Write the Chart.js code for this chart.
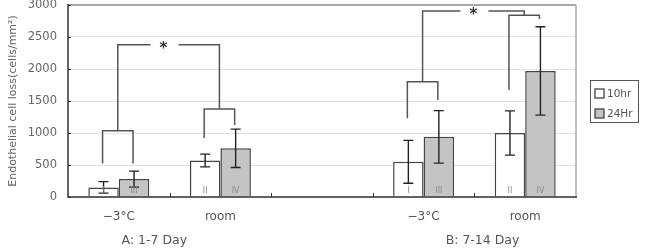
<!DOCTYPE html>
<html><head><meta charset="utf-8">
<script src="https://cdn.jsdelivr.net/npm/chart.js@4"></script>
<style>html,body{margin:0;padding:0;background:#fff;}canvas{display:block;}</style>
</head><body>
<canvas id="c" width="647" height="248"></canvas>
<script>
// ---- data ----
const categories = ['−3°C', 'room', '', '−3°C', 'room'];
const hr10 = [150, 570, null, 550, 1000];
const hr24 = [280, 760, null, 940, 1970];
const err10 = [90, 100, null, 335, 345];
const err24 = [125, 300, null, 410, 690];
const tags10 = ['I', 'II', '', 'I', 'II'];
const tags24 = ['III', 'IV', '', 'III', 'IV'];
const seriesNames = ['10hr', '24Hr'];
const groupLabels = ['A: 1-7 Day', 'B: 7-14 Day'];
const groupLabelAt = [0.35, 3.58];           // in category units
const yTicks = [0, 500, 1000, 1500, 2000, 2500, 3000];
// pair brackets: category, bracket height, left leg end, right leg end (data units)
const pairCat = [0, 1, 3, 4];
const pairTop = [1036, 1375, 1800, 2840];
const pairLeftEnd = [525, 920, 1230, 1670];
const pairRightEnd = [525, 1125, 1515, 2780];
// significance brackets: from category, to category, height
const sigFrom = [0, 3];
const sigTo = [1, 4];
const sigTop = [2380, 2906];
const sigStarShift = [-0.05, 0];

const FONT = "'DejaVu Sans', sans-serif";

function barX(chart, dsIndex, i) {
  const meta = chart.getDatasetMeta(dsIndex);
  return meta.data[i].x;
}

const overlay = {
  id: 'overlay',
  afterDatasetsDraw(chart) {
    const ctx = chart.ctx;
    const x = chart.scales.x, y = chart.scales.y;
    const L = x.left, R = x.right, T = y.top, B = y.bottom;
    ctx.save();
    // frame: top and right
    ctx.strokeStyle = '#a8a8a8'; ctx.lineWidth = 2;
    ctx.beginPath(); ctx.moveTo(L, T); ctx.lineTo(R, T); ctx.stroke();
    ctx.lineWidth = 1.5;
    ctx.beginPath(); ctx.moveTo(R, T); ctx.lineTo(R, B); ctx.stroke();
    // axes
    ctx.strokeStyle = '#333'; ctx.lineWidth = 1.5;
    ctx.beginPath(); ctx.moveTo(L, T - 1); ctx.lineTo(L, B); ctx.lineTo(R + 1, B); ctx.stroke();
    // y tick marks (inside)
    ctx.lineWidth = 1;
    yTicks.forEach(v => { const py = Math.round(y.getPixelForValue(v)) + 0.5;
      ctx.beginPath(); ctx.moveTo(L, py); ctx.lineTo(L + 3, py); ctx.stroke(); });
    // x tick marks at category boundaries (inside)
    const n = categories.length, cw = (R - L) / n;
    for (let i = 1; i < n; i++) { const px = Math.round(L + i * cw) + 0.5;
      ctx.beginPath(); ctx.moveTo(px, B); ctx.lineTo(px, B - 4); ctx.stroke(); }
    // error bars
    ctx.strokeStyle = '#222'; ctx.lineWidth = 1.4;
    [[hr10, err10, 0], [hr24, err24, 1]].forEach(([vals, errs, d]) => {
      vals.forEach((v, i) => {
        if (v == null) return;
        const px = barX(chart, d, i);
        const y1 = y.getPixelForValue(v + errs[i]), y2 = y.getPixelForValue(v - errs[i]);
        ctx.beginPath();
        ctx.moveTo(px, y1); ctx.lineTo(px, y2);
        ctx.moveTo(px - 5, y1); ctx.lineTo(px + 5, y1);
        ctx.moveTo(px - 5, y2); ctx.lineTo(px + 5, y2);
        ctx.stroke();
      });
    });
    // roman tags
    ctx.fillStyle = '#8a8a8a'; ctx.font = '8px ' + FONT; ctx.textAlign = 'center'; ctx.textBaseline = 'alphabetic';
    [[tags10, 0], [tags24, 1]].forEach(([tags, d]) => {
      tags.forEach((t, i) => { if (!t) return; ctx.fillText(t, barX(chart, d, i), B - 4); });
    });
    // pair brackets
    ctx.strokeStyle = '#555'; ctx.lineWidth = 1.5;
    pairCat.forEach((c, k) => {
      const xl = barX(chart, 0, c) - 1, xr = barX(chart, 1, c) - 1;
      const yt = y.getPixelForValue(pairTop[k]);
      ctx.beginPath();
      ctx.moveTo(xl, y.getPixelForValue(pairLeftEnd[k])); ctx.lineTo(xl, yt);
      ctx.lineTo(xr, yt); ctx.lineTo(xr, y.getPixelForValue(pairRightEnd[k]));
      ctx.stroke();
    });
    // significance brackets
    sigFrom.forEach((f, k) => {
      const t = sigTo[k];
      const kf = pairCat.indexOf(f), kt = pairCat.indexOf(t);
      const xf = (barX(chart, 0, f) + barX(chart, 1, f)) / 2 - 1;
      const xt = (barX(chart, 0, t) + barX(chart, 1, t)) / 2 - 1;
      const yt = y.getPixelForValue(sigTop[k]);
      const xm = (xf + xt) / 2 + sigStarShift[k] * cw;
      ctx.beginPath();
      ctx.moveTo(xf, y.getPixelForValue(pairTop[kf])); ctx.lineTo(xf, yt); ctx.lineTo(xm - 13, yt);
      ctx.moveTo(xm + 15, yt); ctx.lineTo(xt, yt); ctx.lineTo(xt, y.getPixelForValue(pairTop[kt]));
      ctx.stroke();
      ctx.fillStyle = '#333'; ctx.font = 'bold 15px ' + FONT; ctx.textAlign = 'center'; ctx.textBaseline = 'middle';
      ctx.fillText('*', xm, yt + 4);
    });
    // group labels
    ctx.fillStyle = '#555'; ctx.font = '12.5px ' + FONT; ctx.textAlign = 'center'; ctx.textBaseline = 'middle';
    groupLabels.forEach((g, k) => ctx.fillText(g, L + (groupLabelAt[k] + 0.5) * cw, 241));
    // y axis title
    ctx.save();
    ctx.translate(13, (T + B) / 2);
    ctx.rotate(-Math.PI / 2);
    ctx.font = '11px ' + FONT; ctx.fillStyle = '#666';
    ctx.fillText('Endothelial cell loss(cells/mm²)', 0, 0);
    ctx.restore();
    // legend
    const lx = 590, ly = 80, lw = 48, lh = 42;
    ctx.strokeStyle = '#555'; ctx.lineWidth = 1;
    ctx.strokeRect(lx + 0.5, ly + 0.5, lw, lh);
    const fills = ['#ffffff', '#c4c4c4'];
    seriesNames.forEach((s, k) => {
      const cy = ly + 13 + k * 20;
      ctx.fillStyle = fills[k]; ctx.fillRect(lx + 5, cy - 4, 9, 9);
      ctx.strokeStyle = '#444'; ctx.lineWidth = 1.3; ctx.strokeRect(lx + 5, cy - 4, 9, 9);
      ctx.fillStyle = '#555'; ctx.font = '10.5px ' + FONT; ctx.textAlign = 'left'; ctx.textBaseline = 'middle';
      ctx.fillText(s, lx + 17, cy + 1);
    });
    ctx.restore();
  }
};

new Chart(document.getElementById('c'), {
  type: 'bar',
  data: {
    labels: categories,
    datasets: [
      { label: seriesNames[0], data: hr10, backgroundColor: '#ffffff', borderColor: '#444', borderWidth: 1.5 },
      { label: seriesNames[1], data: hr24, backgroundColor: '#c4c4c4', borderColor: '#444', borderWidth: 1.5 }
    ]
  },
  options: {
    responsive: false, animation: false,
    layout: { padding: { left: 0, right: 71, top: 5, bottom: 0 } },
    plugins: { legend: { display: false }, tooltip: { enabled: false } },
    datasets: { bar: { categoryPercentage: 0.6, barPercentage: 1.0 } },
    scales: {
      x: {
        offset: true,
        grid: { display: false, drawTicks: false },
        border: { display: false },
        ticks: { color: '#555', font: { size: 12, family: FONT }, padding: 13, maxRotation: 0, autoSkip: false },
        afterFit(s) { s.height = 51; s.paddingLeft = 0; s.paddingRight = 0; }
      },
      y: {
        min: 0, max: 3000,
        afterBuildTicks(s) { s.ticks = yTicks.map(v => ({ value: v })); },
        grid: { color: '#e3e3e3', drawTicks: false, lineWidth: 1 },
        border: { display: false },
        ticks: { color: '#666', font: { size: 11.5, family: FONT }, padding: 11, callback: v => String(v) },
        afterFit(s) { s.width = 68; s.paddingTop = 0; s.paddingBottom = 0; }
      }
    }
  },
  plugins: [overlay]
});
</script>
</body></html>
